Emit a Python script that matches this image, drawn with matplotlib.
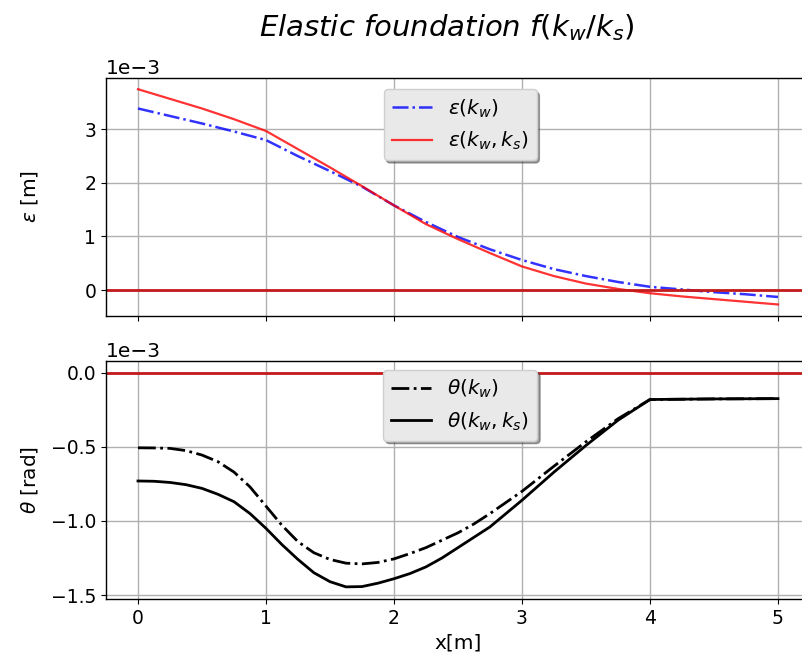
import matplotlib
matplotlib.use("Agg")
import matplotlib.pyplot as plt
import numpy as np

# x positions [m] for displacement
x_eps = [0.0, 0.25, 0.5, 0.75, 1.0, 1.25, 1.5, 1.75, 2.0, 2.25, 2.5, 2.75,
         3.0, 3.25, 3.5, 3.75, 4.0, 4.25, 4.5, 4.75, 5.0]

# displacement (in 1e-3 m)
eps_kw = [3.39, 3.25, 3.11, 2.96, 2.80, 2.50, 2.22, 1.93, 1.58, 1.27, 0.99,
          0.76, 0.56, 0.39, 0.26, 0.15, 0.06, 0.01, -0.04, -0.08, -0.13]
eps_kwks = [3.75, 3.57, 3.39, 3.19, 2.97, 2.63, 2.29, 1.94, 1.58, 1.23, 0.95,
            0.69, 0.44, 0.26, 0.12, 0.02, -0.06, -0.12, -0.17, -0.22, -0.27]

# x positions [m] for rotation
x_theta = [0.0, 0.125, 0.25, 0.375, 0.5, 0.625, 0.75, 0.875, 1.0, 1.125,
           1.25, 1.375, 1.5, 1.625, 1.75, 1.875, 2.0, 2.125, 2.25, 2.375,
           2.5, 2.625, 2.75, 2.875, 3.0, 3.25, 3.5, 3.75, 4.0, 4.25, 4.5,
           4.75, 5.0]

# rotation (in 1e-3 rad)
theta_kw = [-0.506, -0.507, -0.51, -0.525, -0.555, -0.60, -0.67, -0.77,
            -0.90, -1.03, -1.14, -1.215, -1.26, -1.285, -1.29, -1.28, -1.256,
            -1.22, -1.18, -1.13, -1.08, -1.02, -0.95, -0.875, -0.80, -0.63,
            -0.465, -0.31, -0.18, -0.178, -0.176, -0.175, -0.174]
theta_kwks = [-0.73, -0.732, -0.74, -0.755, -0.78, -0.82, -0.87, -0.95,
              -1.05, -1.16, -1.26, -1.35, -1.41, -1.445, -1.443, -1.42,
              -1.39, -1.355, -1.31, -1.25, -1.18, -1.11, -1.04, -0.95, -0.86,
              -0.67, -0.49, -0.32, -0.18, -0.178, -0.176, -0.175, -0.174]

TICK_FS = 13.5
LAB_FS = 14.5
plt.rcParams.update({
    "font.size": LAB_FS,
    "xtick.labelsize": TICK_FS,
    "ytick.labelsize": TICK_FS,
    "axes.linewidth": 1.0,
})

fig = plt.figure(figsize=(8.03, 6.63), dpi=100)
ax1 = fig.add_axes([0.1320, 0.5234, 0.8767, 0.3590])
ax2 = fig.add_axes([0.1320, 0.0965, 0.8767, 0.3590], sharex=ax1)

s = 1e-3
leg_kw = dict(loc="upper center", shadow=True, fontsize=LAB_FS,
              borderaxespad=0, facecolor="#e9e9e9", framealpha=1,
              edgecolor="#cfcfcf")

ax1.plot(np.array(x_eps), np.array(eps_kw) * s, color="b", ls="-.", lw=1.8,
         alpha=0.8, label=r"$\epsilon(k_w)$")
ax1.plot(np.array(x_eps), np.array(eps_kwks) * s, color="r", ls="-", lw=1.6,
         alpha=0.8, label=r"$\epsilon(k_w, k_s)$")
ax1.axhline(0, color="#c41a1a", lw=2)
ax1.set_ylim(-0.485e-3, 3.96e-3)
ax1.set_ylabel(r"$\epsilon$ [m]")
ax1.grid(True, color="#b0b0b0", lw=1)
ax1.legend(bbox_to_anchor=(0.503, 0.952), **leg_kw)
plt.setp(ax1.get_xticklabels(), visible=False)

ax2.plot(np.array(x_theta), np.array(theta_kw) * s, color="k", ls="-.", lw=2,
         label=r"$\theta(k_w)$")
ax2.plot(np.array(x_theta), np.array(theta_kwks) * s, color="k", ls="-", lw=2,
         label=r"$\theta(k_w, k_s)$")
ax2.axhline(0, color="#c41a1a", lw=2)
ax2.set_ylim(-1.527e-3, 0.08e-3)
ax2.set_xlim(-0.25, 5.25)
ax2.set_ylabel(r"$\theta$ [rad]")
ax2.set_xlabel("x[m]")
ax2.grid(True, color="#b0b0b0", lw=1)
ax2.legend(bbox_to_anchor=(0.503, 0.962), **leg_kw)
ax2.set_yticks([0, -0.5e-3, -1.0e-3, -1.5e-3])

for ax in (ax1, ax2):
    ax.ticklabel_format(axis="y", style="sci", scilimits=(0, 0))
    ax.yaxis.get_offset_text().set_fontsize(LAB_FS)
    ax.yaxis.set_label_coords(-0.094, 0.5)

fig.text(0.557, 0.959, r"Elastic foundation $f(k_w/k_s)$", ha="center",
         va="center", fontsize=21, fontstyle="italic")

fig.savefig("out.png", dpi=100)
